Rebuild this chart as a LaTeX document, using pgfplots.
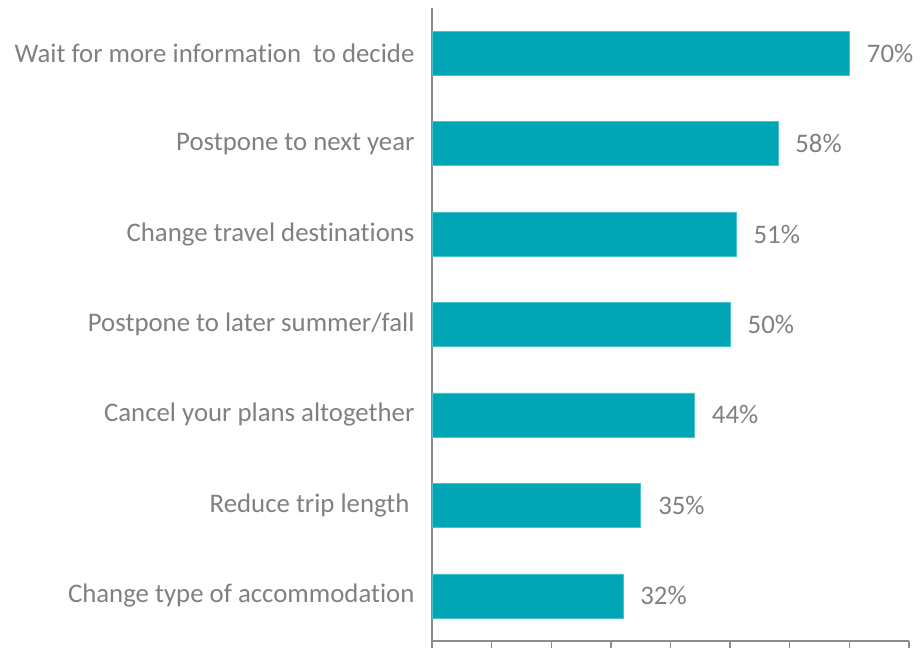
\documentclass[border=0pt]{standalone}
\usepackage{pgfplots}
\pgfplotsset{compat=1.18}
\usepackage{fontspec}
\setmainfont{Carlito}[Ligatures=NoCommon]
\definecolor{barteal}{RGB}{0,166,182}
\definecolor{txtgray}{RGB}{128,128,128}
\definecolor{axgray}{RGB}{140,140,140}

\begin{document}
\begin{tikzpicture}
    \begin{axis}[
        name=main,
        scale only axis,
        width=477pt, height=633pt,
        xbar, bar width=44pt,
        xmin=0, xmax=80,
        ymin=-0.5, ymax=6.5,
        xtick={0,10,...,80},
        xticklabels={},
        ytick={0,...,6},
        yticklabels={Change type of accommodation,Reduce trip length\kern5pt\relax,Cancel your plans altogether,Postpone to later summer/fall,Change travel destinations,Postpone to next year,Wait for more information\ \ to decide},
        axis x line*=bottom,
        axis y line*=left,
        axis line style={axgray, line width=1.3pt},
        x tick style={axgray, line width=1.3pt},
        tick align=outside,
        major tick length=7pt,
        y tick style={draw=none},
        /pgf/number format/assume math mode=true,
        yticklabel style={font=\fontsize{26.8}{30}\selectfont, text=txtgray, xshift=-7pt},
        nodes near coords={\pgfmathprintnumber{\pgfplotspointmeta}\%},
        nodes near coords style={font=\fontsize{26.8}{30}\selectfont, text=txtgray, xshift=14pt},
        point meta=x,
        clip=false,
    ]
        \addplot[fill=barteal, draw=barteal!70!white, line width=0.5pt] coordinates {
            (32,0)
            (35,1)
            (44,2)
            (50,3)
            (51,4)
            (58,5)
            (70,6)
        };
    \end{axis}
    \pgfresetboundingbox
    \path (main.south west) ++(-432pt,-7pt) rectangle ++(924pt,648pt);
\end{tikzpicture}
\end{document}
